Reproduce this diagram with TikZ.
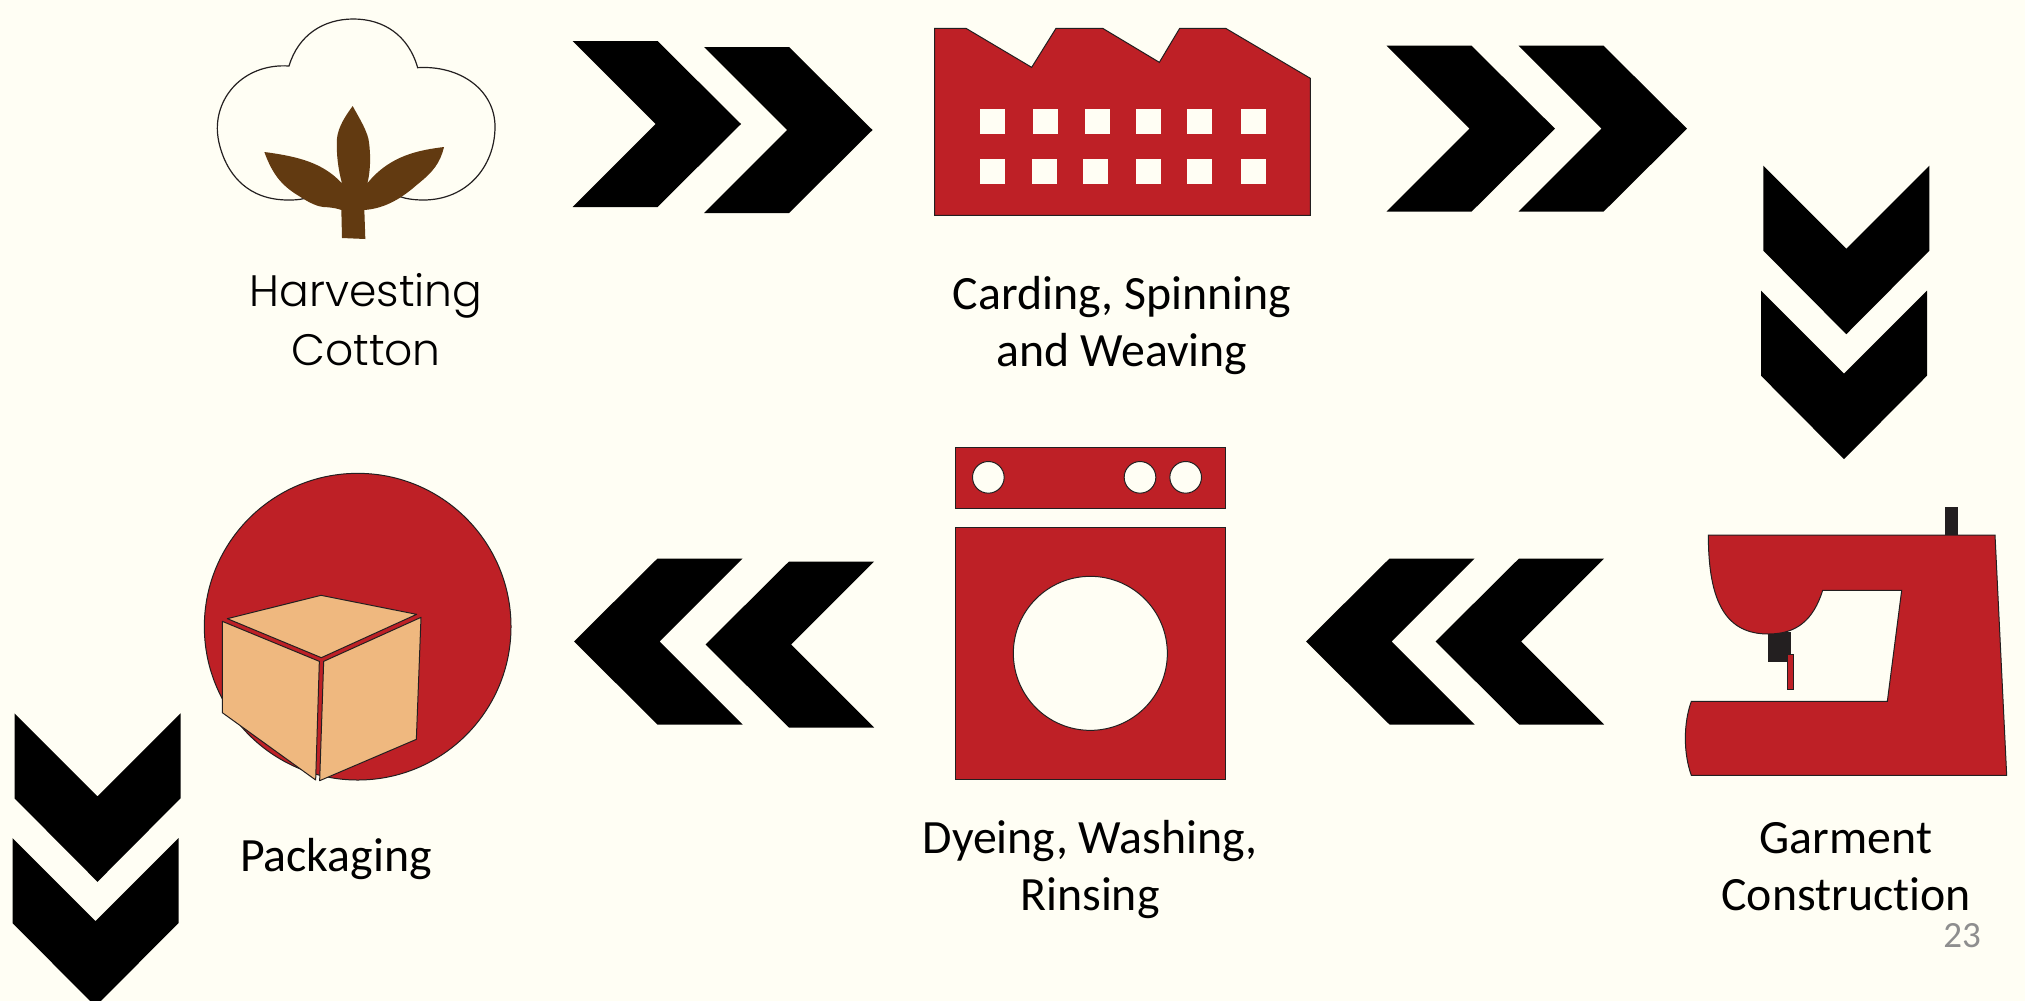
\documentclass[tikz,border=0pt]{standalone}
\usepackage{fontspec}
\setmainfont{Carlito}[Ligatures=NoCommon]
\newfontfamily\avenirlike{Poppins Light}
\definecolor{paper}{HTML}{FFFEF4}
\definecolor{mainred}{HTML}{BE2026}
\definecolor{tan}{HTML}{EFB87F}
\definecolor{brown}{HTML}{623A11}
\definecolor{ink}{HTML}{231F20}
\definecolor{pagegray}{HTML}{8E8E8E}
\tikzset{
  chevron/.pic={\fill[black] (0,-83) -- (85,-83) -- (168.5,0) -- (85,83) -- (0,83) -- (83,0) -- cycle;},
  zoomed/.style 2 args={shift={(#1*.5pt,-#2*.5pt)},x=0.16667pt,y=-0.16667pt},
  redshape/.style={fill=mainred,draw=ink,line width=.5pt,line join=miter},
  hole/.style={fill=paper,draw=ink,line width=.5pt},
  window/.style={fill=paper},
  tanface/.style={fill=tan,draw=ink,line width=.5pt,line join=round},
  label/.style={inner sep=0pt,align=center,text=black,font=\fontsize{23.9pt}{28.5pt}\selectfont},
  thinlabel/.style={inner sep=0pt,align=center,text=black,font=\avenirlike\fontsize{22pt}{29.5pt}\selectfont},
}
\begin{document}
\begin{tikzpicture}[x=.5pt,y=-.5pt]
\useasboundingbox (0,0) rectangle (2025,1001);
\clip (0,0) rectangle (2025,1001);
\fill[paper] (0,0) rectangle (2025,1001);

% chevrons
\pic at (572.5,124) {chevron};
\pic at (704,130) {chevron};
\pic at (1386.5,128.7) {chevron};
\pic at (1518.5,128.7) {chevron};
\pic[rotate=-90] at (1846.3,165.7) {chevron};
\pic[rotate=-90] at (1844,290.7) {chevron};
\pic[rotate=180] at (1604,641.5) {chevron};
\pic[rotate=180] at (1474.5,641.5) {chevron};
\pic[rotate=180] at (874,644.5) {chevron};
\pic[rotate=180] at (742.5,641.5) {chevron};
\pic[rotate=-90] at (97.5,713.3) {chevron};
\pic[rotate=-90] at (95.5,838) {chevron};

% cotton
\begin{scope}[zoomed={190}{0}]
\path[draw=ink,line width=.6pt,fill=paper]
  (297,198) .. controls (325,105) and (400,57) .. (490,57)
  .. controls (580,57) and (655,105) .. (683,203)
  .. controls (810,195) and (915,270) .. (915,380)
  .. controls (915,500) and (830,600) .. (700,600)
  .. controls (675,600) and (650,597) .. (630,590)
  -- (345,595)
  .. controls (325,600) and (310,600) .. (295,600)
  .. controls (170,600) and (120,520) .. (100,470)
  .. controls (88,440) and (82,410) .. (82,385)
  .. controls (82,280) and (170,190) .. (297,198) -- cycle;
\fill[paper] (345,600) rectangle (630,640);
\fill[brown] (456,714) -- (526,717) -- (523,630)
  .. controls (590,625) and (640,590) .. (680,555)
  .. controls (730,515) and (750,490) .. (762,441)
  .. controls (690,450) and (600,465) .. (532,550)
  .. controls (545,500) and (540,440) .. (535,415)
  .. controls (525,380) and (505,350) .. (488,318)
  .. controls (465,350) and (445,380) .. (441,415)
  .. controls (438,460) and (445,510) .. (456,550)
  .. controls (400,490) and (330,470) .. (223,456)
  .. controls (250,530) and (280,560) .. (330,590)
  .. controls (360,610) and (385,620) .. (400,621)
  .. controls (430,622) and (450,628) .. (454,630) -- cycle;
\end{scope}

% factory
\begin{scope}[zoomed={920}{10}]
\draw[redshape] (44,55) -- (138,55) -- (335,172) -- (408,55) -- (548,55) -- (718,157)
  -- (779,55) -- (917,55) -- (1171,205) -- (1171,616) -- (44,616) -- cycle;
\foreach \wx in {180,339,495,648,801,963} \fill[window] (\wx,297) rectangle ++(75,75);
\foreach \wx in {180,336,489,648,801,963} \fill[window] (\wx,447) rectangle ++(75,75);
\end{scope}

% sewing machine
\begin{scope}[zoomed={1670}{490}]
\fill[ink] (824,51) rectangle (865,140);
\fill[ink] (295,425) rectangle (363,516);
\draw[redshape] (115,135) -- (975,135) -- (1010,856) -- (64,856)
  .. controls (40,790) and (40,700) .. (64,634)
  -- (652,634) -- (695,301) -- (458,301)
  .. controls (430,390) and (380,432) .. (295,432)
  .. controls (170,432) and (115,340) .. (115,135) -- cycle;
\draw[redshape] (352,492) rectangle (371,599);
\end{scope}

% washing machine
\begin{scope}[zoomed={940}{440}]
\draw[redshape] (46,22) rectangle (856,204);
\draw[hole] (145,112) circle[radius=47.5];
\draw[hole] (600,112) circle[radius=47.5];
\draw[hole] (737,112) circle[radius=47.5];
\draw[redshape] (46,262) rectangle (856,1018);
\draw[hole] (451,640) circle[radius=231];
\end{scope}

% packaging
\begin{scope}[zoomed={190}{460}]
\draw[redshape] (503,500) circle[radius=460];
\draw[tanface] (112,476) -- (393,406) -- (680,463) -- (394,593) -- cycle;
\draw[tanface] (97,484) -- (388,604) -- (377,960) -- (97,758) -- cycle;
\draw[tanface] (401,604) -- (693,472) -- (679,838) -- (389,962) -- cycle;
\end{scope}

% labels
\node[thinlabel,anchor=center] (harvest) at (366,319.5) {Harvesting\\Cotton};
\node[label,anchor=center] (carding) at (1122,325.5) {Carding, Spinning\\and Weaving};
\node[label,anchor=center] (dyeing) at (1090,870) {Dyeing, Washing,\\Rinsing};
\node[label,anchor=base] (garmentlabel) at (1846,910) {Construction};
\node[label,anchor=base] (garmenttop) at (1846,853) {Garment};
\node[label,anchor=base] (packaging) at (336,871) {Packaging};
\node[inner sep=0pt,anchor=base,text=pagegray,font=\fontsize{18.5pt}{22pt}\selectfont] (pagenum) at (1962,947) {23};
\end{tikzpicture}
\end{document}
